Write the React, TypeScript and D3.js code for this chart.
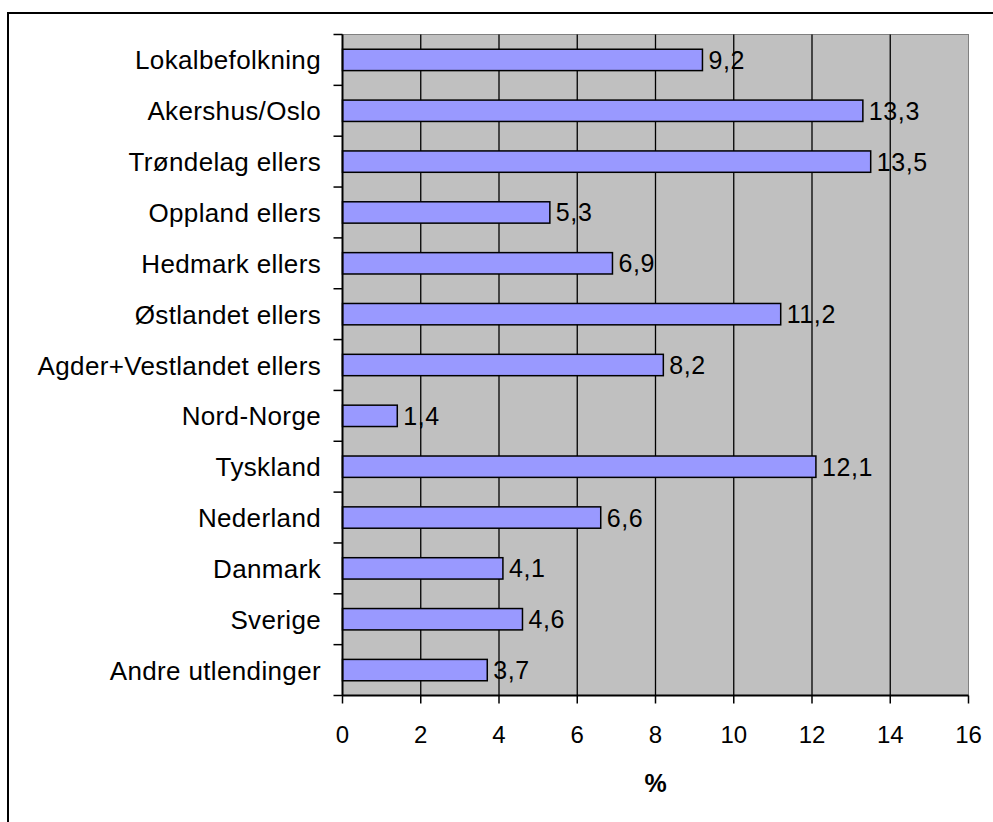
import React from "react";
import * as d3 from "d3";

const categories = [
  "Lokalbefolkning",
  "Akershus/Oslo",
  "Trøndelag ellers",
  "Oppland ellers",
  "Hedmark ellers",
  "Østlandet ellers",
  "Agder+Vestlandet ellers",
  "Nord-Norge",
  "Tyskland",
  "Nederland",
  "Danmark",
  "Sverige",
  "Andre utlendinger",
];
const values = [9.2, 13.3, 13.5, 5.3, 6.9, 11.2, 8.2, 1.4, 12.1, 6.6, 4.1, 4.6, 3.7];
const xTicks = [0, 2, 4, 6, 8, 10, 12, 14, 16];
const xTitle = "%";

const W = 993;
const H = 822;
const left = 342.5;
const right = 968.5;
const top = 34.5;
const bottom = 695.5;
const FONT = "'Liberation Sans', Arial, sans-serif";

export default function App() {
  const x = d3.scaleLinear().domain([0, 16]).range([left, right]);
  const y = d3
    .scaleBand<string>()
    .domain(categories)
    .range([top, bottom])
    .paddingInner(0.58)
    .paddingOuter(0.29);
  const step = y.step();
  const fmt = (v: number) => v.toFixed(1).replace(".", ",");

  return (
    <svg
      width={W}
      height={H}
      style={{ position: "absolute", left: 0, top: 0, background: "#fff" }}
      fontFamily={FONT}
    >
      <rect x={0} y={0} width={W} height={H} fill="#fff" />
      {/* outer chart border */}
      <rect x={8} y={13} width={1200} height={1200} fill="none" stroke="#000" strokeWidth={2} />
      {/* plot area */}
      <rect x={left} y={top} width={right - left} height={bottom - top} fill="#C0C0C0" stroke="#808080" strokeWidth={1} />
      {/* vertical gridlines */}
      {xTicks.slice(1, -1).map((t) => (
        <line key={"g" + t} x1={x(t)} x2={x(t)} y1={top} y2={bottom} stroke="#000" strokeWidth={1.3} />
      ))}
      {/* bars */}
      {categories.map((c, i) => (
        <rect
          key={c}
          x={x(0)}
          y={y(c)!}
          width={x(values[i]) - x(0)}
          height={y.bandwidth()}
          fill="#9999FF"
          stroke="#000"
          strokeWidth={1.5}
        />
      ))}
      {/* value labels */}
      {categories.map((c, i) => (
        <text
          key={"v" + c}
          x={x(values[i]) + 6}
          y={y(c)! + y.bandwidth() / 2 + 9}
          fontSize={25}
          letterSpacing={0.6}
          fill="#000"
        >
          {fmt(values[i])}
        </text>
      ))}
      {/* axes */}
      <line x1={left} x2={left} y1={top} y2={bottom} stroke="#000" strokeWidth={2} />
      <line x1={left} x2={right} y1={bottom} y2={bottom} stroke="#000" strokeWidth={2} />
      {/* y ticks at band boundaries */}
      {d3.range(categories.length + 1).map((i) => (
        <line
          key={"yt" + i}
          x1={left - 9}
          x2={left}
          y1={top + i * step}
          y2={top + i * step}
          stroke="#000"
          strokeWidth={1.5}
        />
      ))}
      {/* category labels */}
      {categories.map((c) => (
        <text
          key={"c" + c}
          x={321}
          y={y(c)! + y.bandwidth() / 2 + 9.5}
          textAnchor="end"
          fontSize={26}
          letterSpacing={0.35}
          fill="#000"
        >
          {c}
        </text>
      ))}
      {/* x ticks */}
      {xTicks.map((t) => (
        <g key={"xt" + t}>
          <line x1={x(t)} x2={x(t)} y1={bottom} y2={bottom + 8} stroke="#000" strokeWidth={1.5} />
          <text x={x(t)} y={743} textAnchor="middle" fontSize={24} fill="#000">
            {t}
          </text>
        </g>
      ))}
      <text x={(left + right) / 2} y={792} textAnchor="middle" fontSize={25} fontWeight="bold" fill="#000">
        {xTitle}
      </text>
    </svg>
  );
}
